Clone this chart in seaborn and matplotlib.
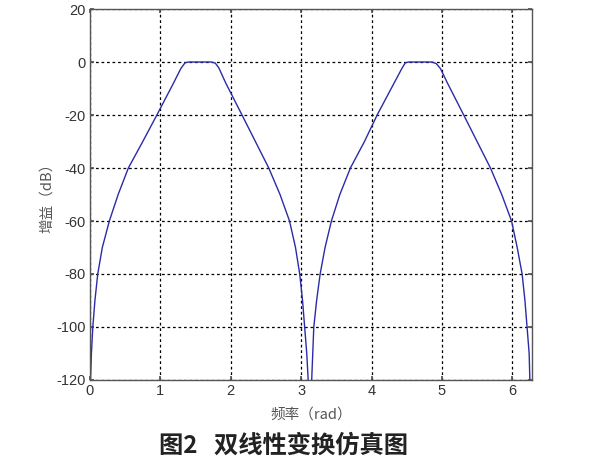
import pandas as pd
import matplotlib
matplotlib.use('Agg')
import matplotlib.pyplot as plt
import seaborn as sns

# curve (frequency in rad, gain in dB)
freq = [0.00, 0.02, 0.04, 0.07, 0.11, 0.175, 0.275, 0.40, 0.545, 0.75,
        0.95, 1.18, 1.29, 1.35, 1.40, 1.55, 1.72, 1.78, 1.83, 1.93, 2.16, 2.35,
        2.54, 2.70, 2.835, 2.92, 2.98, 3.02, 3.05, 3.08, 3.10, 3.11,
        3.145, 3.15, 3.165, 3.18, 3.22, 3.27, 3.34, 3.43, 3.55, 3.70, 3.90,
        4.08, 4.32, 4.43, 4.48, 4.53, 4.70, 4.86, 4.92, 4.98, 5.08, 5.31, 5.50,
        5.69, 5.85, 5.99, 6.07, 6.14, 6.18, 6.21, 6.24, 6.25, 6.26]
gain = [-125, -110, -100, -90, -80, -70, -60, -50, -40, -30,
        -20, -8.3, -2.5, -0.3, 0, 0, 0, -0.4, -2.2, -8, -20, -30,
        -40, -50, -60, -70, -80, -90, -100, -110, -120, -125,
        -125, -120, -110, -100, -90, -80, -70, -60, -50, -40, -30,
        -20, -8, -2.5, -0.3, 0, 0, 0, -0.6, -2.5, -8, -20, -30,
        -40, -50, -60, -70, -80, -90, -100, -110, -120, -125]

x_ticks = [0, 1, 2, 3, 4, 5, 6]
y_ticks = [20, 0, -20, -40, -60, -80, -100, -120]

df = pd.DataFrame({'freq': freq, 'gain': gain})

sns.set_theme(style='ticks')
plt.rcParams['font.family'] = ['Liberation Sans', 'Noto Sans CJK SC', 'DejaVu Sans']
plt.rcParams['axes.unicode_minus'] = False

fig = plt.figure(figsize=(6.0, 4.62), dpi=100)
ax = fig.add_axes([0.15, 0.1775, 0.737, 0.803])

sns.lineplot(data=df, x='freq', y='gain', sort=False, estimator=None,
             color='#2b2ba8', linewidth=1.0, ax=ax)

ax.set_xlim(0, 6.2832)
ax.set_ylim(-120, 20)
ax.set_xticks(x_ticks)
ax.set_yticks(y_ticks)
ax.grid(True, color='black', linestyle=(0, (2.2, 2.2)), linewidth=0.9)
ax.tick_params(direction='in', length=3, top=True, right=True,
               labelsize=10.5, colors='#555555', labelcolor='#333333', pad=3)
for s in ax.spines.values():
    s.set_visible(True)
    s.set_color('#555555')
    s.set_linewidth(1.0)

ax.set_xlabel('频率（rad）', fontsize=10.5, color='#555555', labelpad=7,
              family=['Noto Sans CJK SC', 'Liberation Sans'])
ax.set_ylabel('增益（dB）', fontsize=10.5, color='#555555', labelpad=2,
              family=['Noto Sans CJK SC', 'Liberation Sans'])

fig.text(0.473, 0.035, '图2   双线性变换仿真图', ha='center', va='center',
         fontsize=17.5, fontweight='bold', color='#222222',
         family=['Noto Sans CJK SC', 'DejaVu Sans'])

fig.savefig('out.png', dpi=100)
